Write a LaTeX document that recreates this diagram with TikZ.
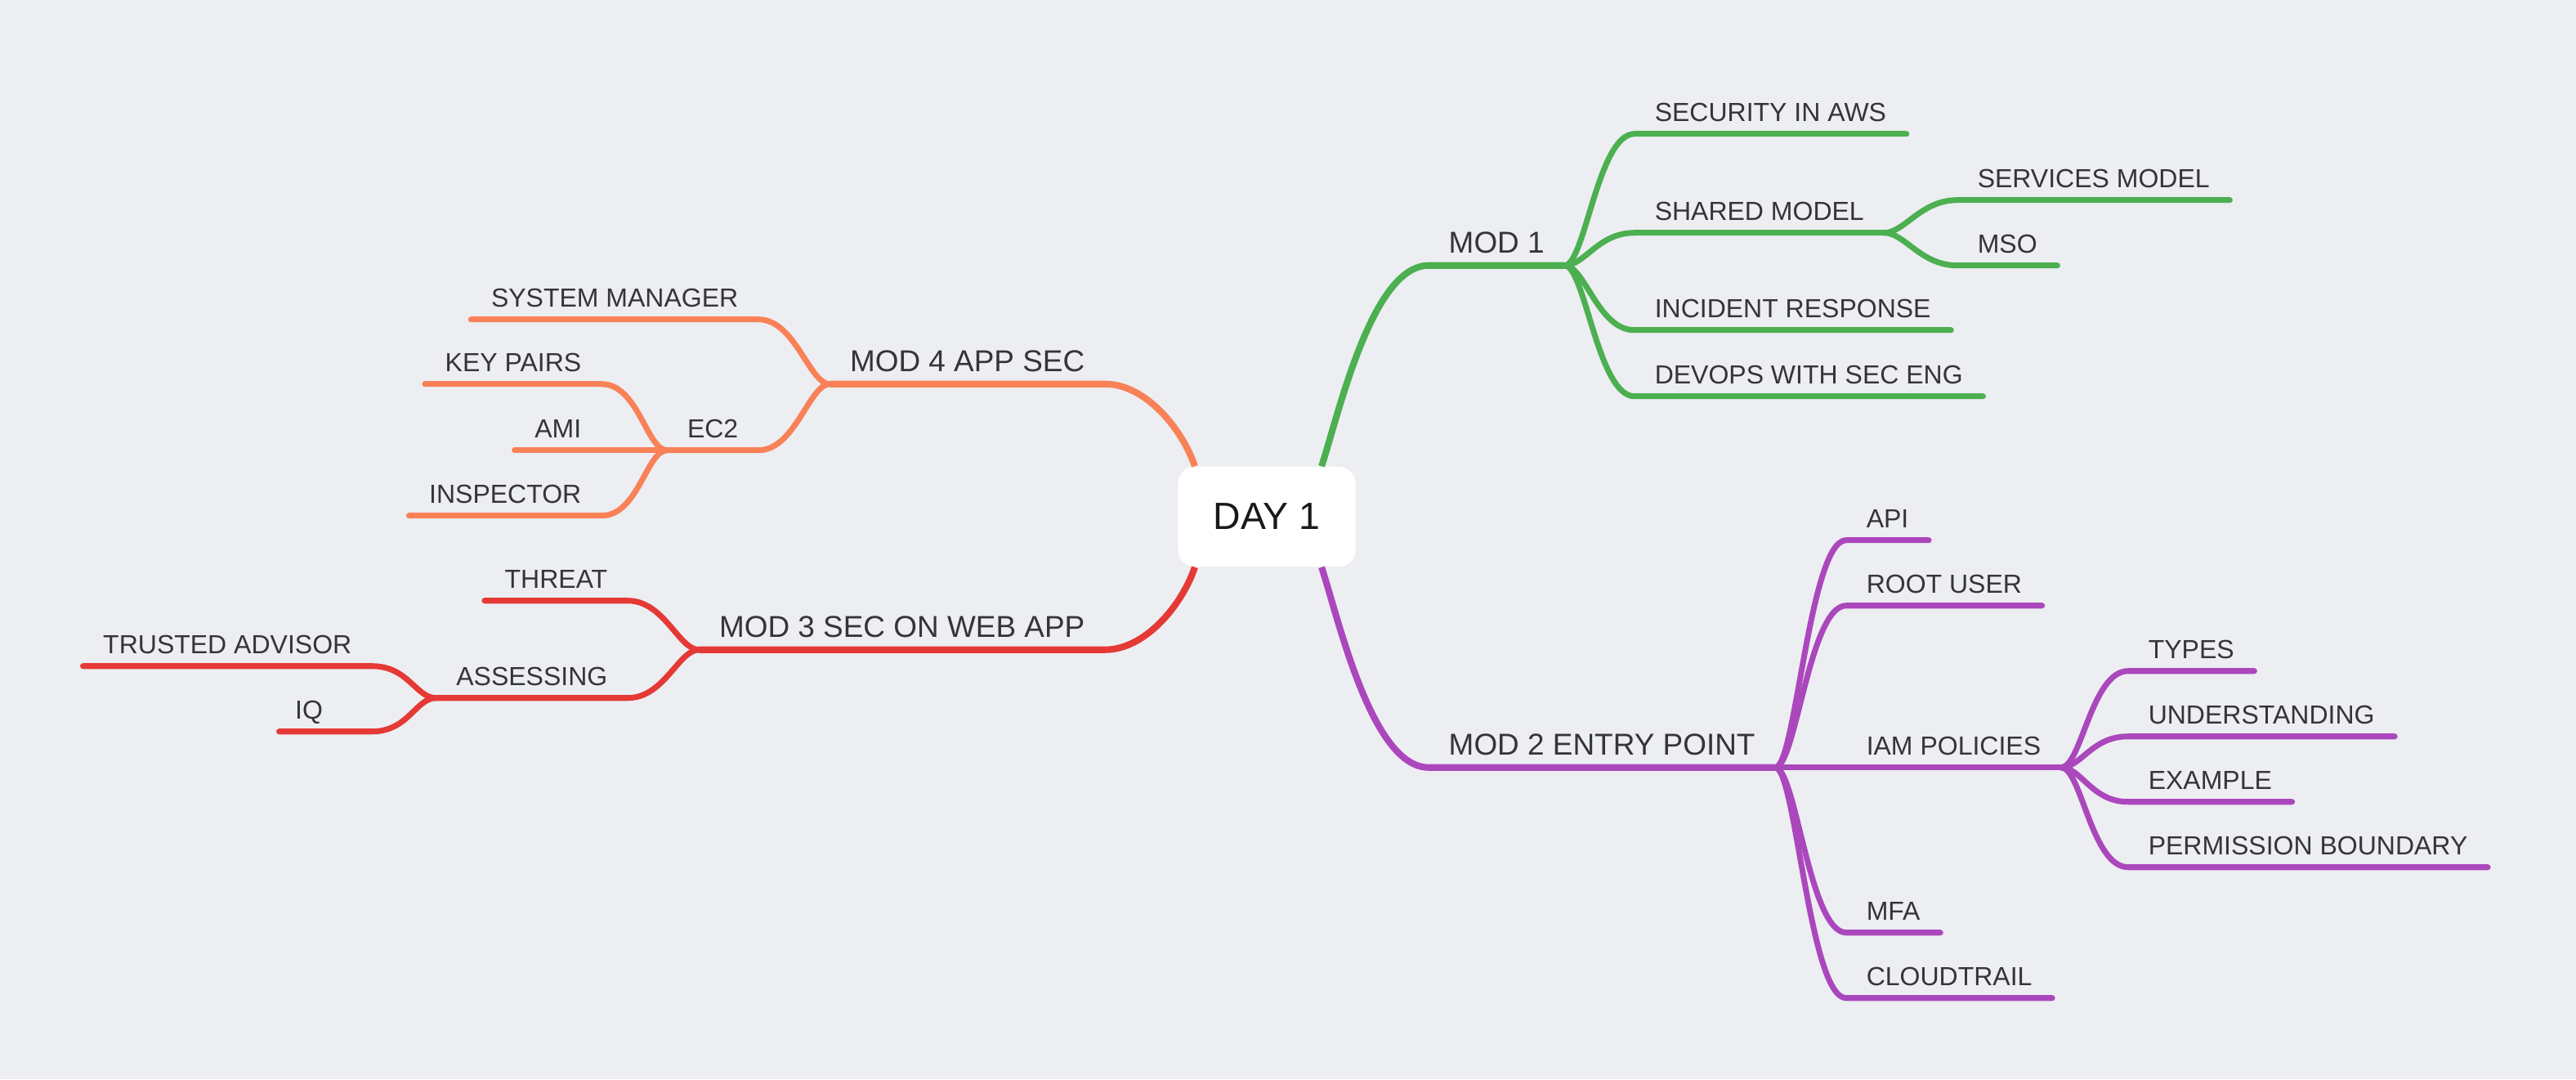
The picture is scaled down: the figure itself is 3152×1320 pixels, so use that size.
\documentclass[tikz,border=0pt]{standalone}
\usepackage{fontspec}
\setmainfont{Liberation Sans}
\definecolor{bgcol}{HTML}{ECEEF2}
\definecolor{txtcol}{HTML}{353535}
\definecolor{modgreen}{HTML}{4CAF50}
\definecolor{modpurple}{HTML}{AB47BC}
\definecolor{modorange}{HTML}{F98157}
\definecolor{modred}{HTML}{E53935}
\tikzset{
  topic/.style={text=txtcol, font=\fontsize{9.1}{11}\selectfont, inner xsep=0.24cm, inner ysep=0.15cm, text depth=0pt},
  maintopic/.style={topic, font=\fontsize{10.5}{12}\selectfont},
  rootbox/.style={fill=white, rounded corners=0.2cm, minimum width=2.17cm, minimum height=1.22cm, text=black!90, font=\fontsize{13.2}{15}\selectfont},
  branch/.style={line width=2pt, line cap=round},
  firstbranch/.style={line width=2.3pt, line cap=round},
}
\def\rbranch#1#2#3{
  % 1: colour
  % 2: parent
  % 3: child
  \draw[branch,color=#1] (#2.south east) .. controls +(25,0) and +(-45,0) .. (#3.south west) -- (#3.south east);
}
\def\lbranch#1#2#3{
  % 1: colour
  % 2: parent
  % 3: child
  \draw[branch,color=#1] (#2.south west) .. controls +(-25,0) and +(45,0) .. (#3.south east) -- (#3.south west);
}

\begin{document}
\begin{tikzpicture}[x=0.01cm,y=-0.01cm]
    \fill[bgcol] (0,0) rectangle (3152,1320);
    \useasboundingbox (0,0) rectangle (3152,1320);

    \node[rootbox] (root) at (1550,632) {DAY 1};

    % right: mod 1
    \node[maintopic,anchor=base west] (mod1) at (1748,309) {MOD 1};
    \node[topic,anchor=base west] (secaws) at (2000,148) {SECURITY IN AWS};
    \node[topic,anchor=base west] (shared) at (2000,269) {SHARED MODEL};
    \node[topic,anchor=base west] (services) at (2395,229) {SERVICES MODEL};
    \node[topic,anchor=base west] (mso) at (2395,309) {MSO};
    \node[topic,anchor=base west] (incident) at (2000,388) {INCIDENT RESPONSE};
    \node[topic,anchor=base west] (devops) at (2000,469) {DEVOPS WITH SEC ENG};

    % right: mod 2
    \node[maintopic,anchor=base west] (mod2) at (1748,923) {MOD 2 ENTRY POINT};
    \node[topic,anchor=base west] (api) at (2259,645) {API};
    \node[topic,anchor=base west] (rootuser) at (2259,725) {ROOT USER};
    \node[topic,anchor=base west] (iam) at (2259,923) {IAM POLICIES};
    \node[topic,anchor=base west] (mfa) at (2259,1125) {MFA};
    \node[topic,anchor=base west] (cloudtrail) at (2259,1205) {CLOUDTRAIL};
    \node[topic,anchor=base west] (types) at (2604,805) {TYPES};
    \node[topic,anchor=base west] (understanding) at (2604,885) {UNDERSTANDING};
    \node[topic,anchor=base west] (example) at (2604,965) {EXAMPLE};
    \node[topic,anchor=base west] (permission) at (2604,1045) {PERMISSION BOUNDARY};

    % left: mod 4
    \node[maintopic,anchor=base east] (mod4) at (1352,454) {MOD 4 APP SEC};
    \node[topic,anchor=base east] (sysman) at (928,375) {SYSTEM MANAGER};
    \node[topic,anchor=base east] (ec2) at (928,535) {EC2};
    \node[topic,anchor=base east] (keypairs) at (736,454) {KEY PAIRS};
    \node[topic,anchor=base east] (ami) at (736,535) {AMI};
    \node[topic,anchor=base east] (inspector) at (736,615) {INSPECTOR};

    % left: mod 3
    \node[maintopic,anchor=base east] (mod3) at (1352,779) {MOD 3 SEC ON WEB APP};
    \node[topic,anchor=base east] (threat) at (768,719) {THREAT};
    \node[topic,anchor=base east] (assessing) at (768,838) {ASSESSING};
    \node[topic,anchor=base east] (trusted) at (455,799) {TRUSTED ADVISOR};
    \node[topic,anchor=base east,inner xsep=0.19cm,text width=0.74cm] (iq) at (455,879) {IQ};

    % from the root
    \draw[firstbranch,line cap=butt,modgreen] ([xshift=0.67cm]root.north) .. controls +(20,-60) and +(-70,0) .. (mod1.south west) -- (mod1.south east);
    \draw[firstbranch,line cap=butt,modpurple] ([xshift=0.67cm]root.south) .. controls +(20,60) and +(-70,0) .. (mod2.south west) -- (mod2.south east);
    \draw[firstbranch,line cap=butt,modorange] ([xshift=-0.88cm]root.north) .. controls +(-15,-45) and +(50,0) .. (mod4.south east) -- (mod4.south west);
    \draw[firstbranch,line cap=butt,modred] ([xshift=-0.88cm]root.south) .. controls +(-15,45) and +(50,0) .. (mod3.south east) -- (mod3.south west);

    \rbranch{modgreen}{mod1}{secaws}   \rbranch{modgreen}{mod1}{shared}
    \rbranch{modgreen}{mod1}{incident} \rbranch{modgreen}{mod1}{devops}
    \rbranch{modgreen}{shared}{services} \rbranch{modgreen}{shared}{mso}

    \rbranch{modpurple}{mod2}{api}  \rbranch{modpurple}{mod2}{rootuser}
    \rbranch{modpurple}{mod2}{iam}  \rbranch{modpurple}{mod2}{mfa}
    \rbranch{modpurple}{mod2}{cloudtrail}
    \rbranch{modpurple}{iam}{types}   \rbranch{modpurple}{iam}{understanding}
    \rbranch{modpurple}{iam}{example} \rbranch{modpurple}{iam}{permission}

    \lbranch{modorange}{mod4}{sysman} \lbranch{modorange}{mod4}{ec2}
    \lbranch{modorange}{ec2}{keypairs} \lbranch{modorange}{ec2}{ami}
    \lbranch{modorange}{ec2}{inspector}

    \lbranch{modred}{mod3}{threat}  \lbranch{modred}{mod3}{assessing}
    \lbranch{modred}{assessing}{trusted} \lbranch{modred}{assessing}{iq}
  \end{tikzpicture}
\end{document}
